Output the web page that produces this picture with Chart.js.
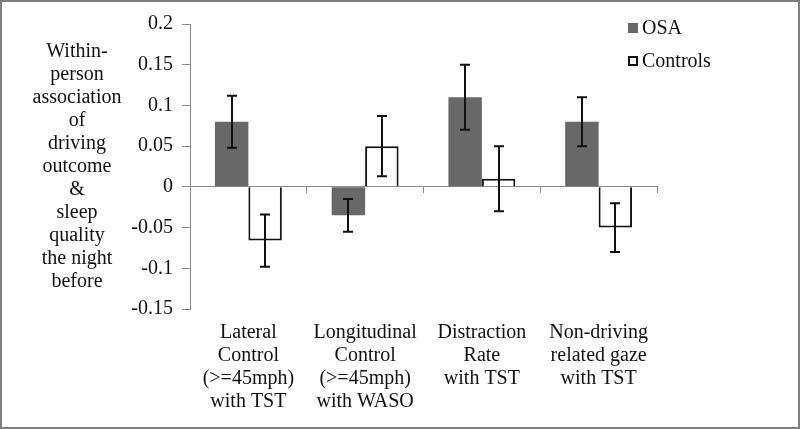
<!DOCTYPE html>
<html>
<head>
<meta charset="utf-8">
<script src="https://cdn.jsdelivr.net/npm/chart.js@4/dist/chart.umd.min.js"></script>
<style>
  html, body { margin: 0; padding: 0; background: #fff; }
  #wrap { width: 800px; height: 429px; position: relative; }
</style>
</head>
<body>
<div id="wrap"><canvas id="c" width="800" height="429"></canvas></div>
<script>
// ---- data ----
const categories = [
  ["Lateral", "Control", "(>=45mph)", "with TST"],
  ["Longitudinal", "Control", "(>=45mph)", "with WASO"],
  ["Distraction", "Rate", "with TST"],
  ["Non-driving", "related gaze", "with TST"]
];
const seriesNames = ["OSA", "Controls"];
const osaValues = [0.08, -0.035, 0.11, 0.08];
const osaErrors = [0.032, 0.02, 0.04, 0.03];
const controlValues = [-0.066, 0.05, 0.01, -0.05];
const controlErrors = [0.032, 0.037, 0.04, 0.03];
const yTickValues = [0.2, 0.15, 0.1, 0.05, 0, -0.05, -0.1, -0.15];
const yAxisTitleLines = ["Within-", "person", "association", "of", "driving", "outcome", "&", "sleep", "quality", "the night", "before"];

const FONT = '"Liberation Serif"';
const GRAY = '#8a8a8a';

const errorBarPlugin = {
  id: 'errorBars',
  afterDatasetsDraw(chart) {
    const ctx = chart.ctx;
    const yScale = chart.scales.y;
    ctx.save();
    ctx.strokeStyle = '#111';
    ctx.lineWidth = 2;
    chart.data.datasets.forEach((ds, di) => {
      const meta = chart.getDatasetMeta(di);
      meta.data.forEach((bar, i) => {
        const v = ds.data[i], e = ds.errors[i];
        const x = Math.round(bar.x);
        const yTop = yScale.getPixelForValue(v + e);
        const yBot = yScale.getPixelForValue(v - e);
        ctx.beginPath();
        ctx.moveTo(x, yTop); ctx.lineTo(x, yBot);
        ctx.moveTo(x - 5, yTop); ctx.lineTo(x + 5, yTop);
        ctx.moveTo(x - 5, yBot); ctx.lineTo(x + 5, yBot);
        ctx.stroke();
      });
    });
    ctx.restore();
  }
};

const decorPlugin = {
  id: 'decor',
  afterDraw(chart) {
    const ctx = chart.ctx;
    ctx.save();
    ctx.strokeStyle = '#7f7f7f';
    ctx.lineWidth = 2;
    ctx.strokeRect(1, 1, chart.width - 2, chart.height - 2);
    ctx.fillStyle = '#111';
    ctx.font = '20px ' + FONT;
    ctx.textAlign = 'center';
    ctx.textBaseline = 'middle';
    yAxisTitleLines.forEach((t, i) => ctx.fillText(t, 77, 52 + i * 23));
    const lx = 628, ly = [28, 61];
    chart.data.datasets.forEach((ds, i) => {
      ctx.fillStyle = ds.backgroundColor;
      ctx.fillRect(lx, ly[i] - 5, 10, 10);
      if (ds.borderWidth) {
        ctx.strokeStyle = ds.borderColor;
        ctx.lineWidth = 2;
        ctx.strokeRect(lx + 1, ly[i] - 4, 8, 8);
      }
      ctx.fillStyle = '#111';
      ctx.textAlign = 'left';
      ctx.fillText(ds.label, lx + 14, ly[i] + 1);
    });
    ctx.restore();
  }
};

new Chart(document.getElementById('c'), {
  type: 'bar',
  data: {
    labels: categories,
    datasets: [
      { label: seriesNames[0], data: osaValues, errors: osaErrors, backgroundColor: '#686868', borderWidth: 0, xAxisID: 'x', yAxisID: 'y' },
      { label: seriesNames[1], data: controlValues, errors: controlErrors, backgroundColor: '#ffffff', borderColor: '#111', borderWidth: 2, xAxisID: 'x', yAxisID: 'y' }
    ]
  },
  options: {
    responsive: false,
    animation: false,
    font: { family: FONT },
    layout: { padding: { left: 0, right: 143, top: 24, bottom: 0 } },
    plugins: { legend: { display: false }, tooltip: { enabled: false } },
    datasets: { bar: { categoryPercentage: 0.573, barPercentage: 1.0 } },
    scales: {
      x: {
        type: 'category',
        position: 'bottom',
        offset: true,
        grid: { display: false, drawTicks: false },
        border: { display: false },
        ticks: { color: '#111', font: { family: FONT, size: 20, lineHeight: 1.15 }, padding: 12, maxRotation: 0, autoSkip: false },
        afterFit(s) { s.height = 120; s.paddingLeft = 0; s.paddingRight = 0; }
      },
      x0: {
        type: 'category',
        position: { y: 0 },
        offset: true,
        grid: { offset: true, drawOnChartArea: false, tickLength: 6, color: GRAY, lineWidth: 1 },
        border: { display: true, color: GRAY, width: 1 },
        ticks: { display: false }
      },
      y: {
        type: 'linear',
        position: 'left',
        min: -0.15,
        max: 0.2,
        afterBuildTicks(s) { s.ticks = yTickValues.map(v => ({ value: v })); },
        ticks: {
          color: '#111',
          font: { family: FONT, size: 20 },
          padding: 9,
          callback: (v) => String(Number(v.toFixed(2)))
        },
        grid: { drawOnChartArea: false, tickLength: 8, color: GRAY },
        border: { display: true, color: GRAY, width: 1 },
        afterFit(s) { s.width = 190; s.paddingTop = 0; s.paddingBottom = 0; }
      }
    }
  },
  plugins: [errorBarPlugin, decorPlugin]
});
</script>
</body>
</html>
